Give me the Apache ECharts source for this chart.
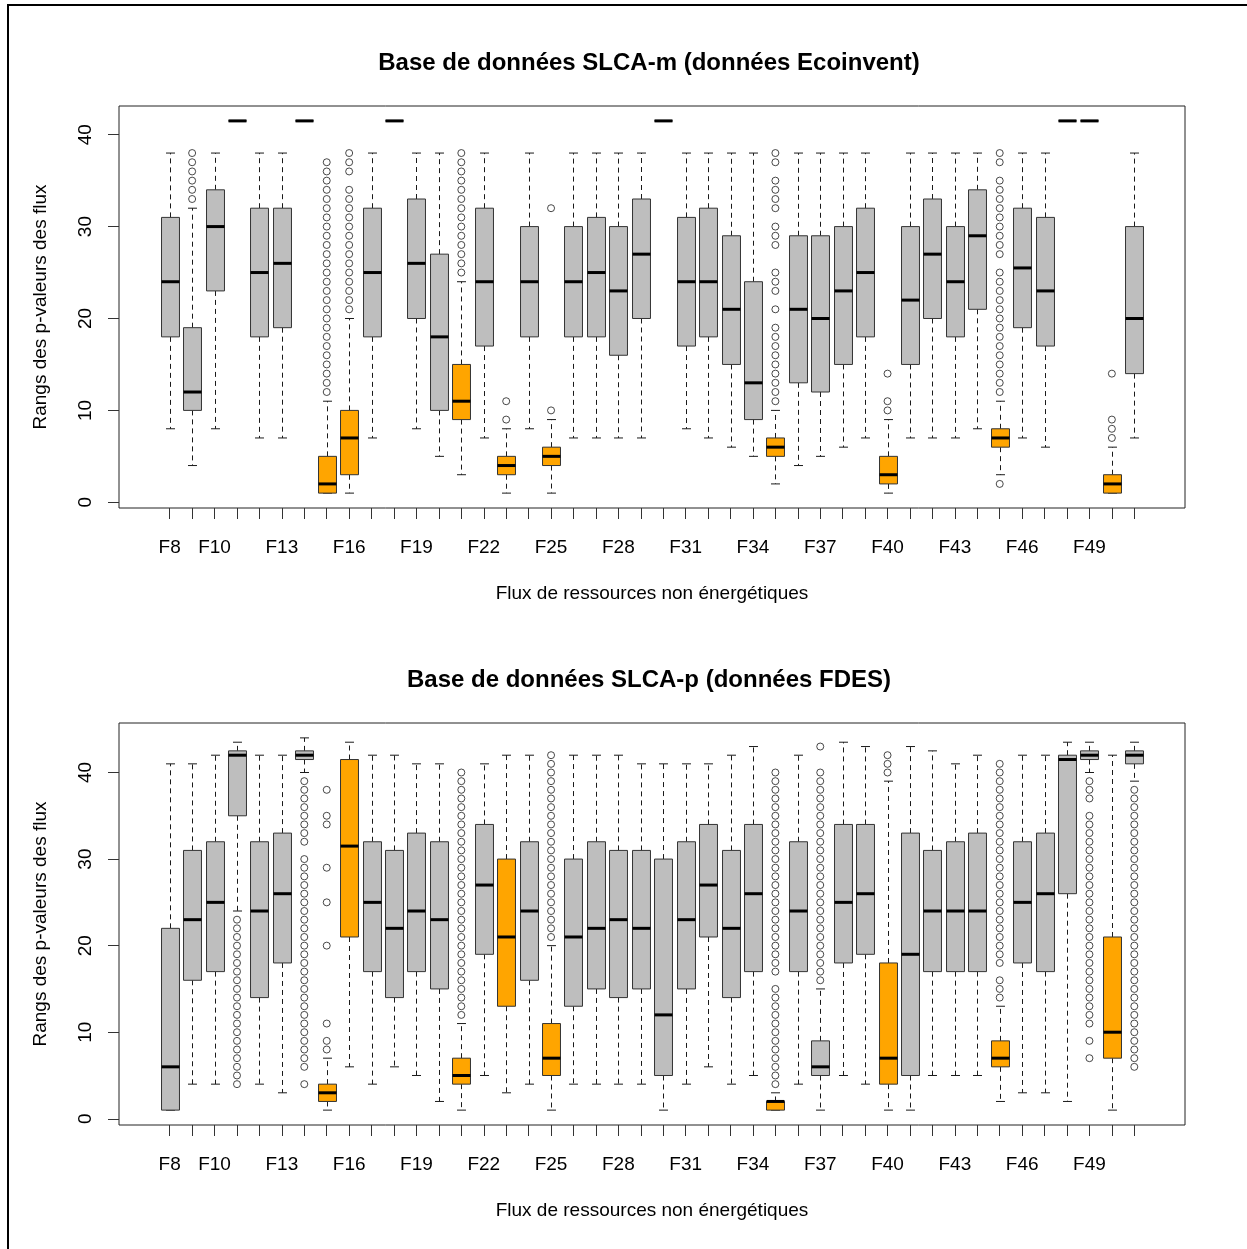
<!DOCTYPE html>
<html><head><meta charset="utf-8">
<script src="https://cdn.jsdelivr.net/npm/echarts@6/dist/echarts.min.js"></script>
<style>html,body{margin:0;padding:0;background:#fff}#c{width:1247px;height:1249px}</style>
</head><body><div id="c"></div>
<script>
const categories = ['F8','F9','F10','F11','F12','F13','F14','F15','F16','F17','F18','F19','F20','F21','F22','F23','F24','F25','F26','F27','F28','F29','F30','F31','F32','F33','F34','F35','F36','F37','F38','F39','F40','F41','F42','F43','F44','F45','F46','F47','F48','F49','F50','F51'];
const tickLabels = ['F8','F10','F13','F16','F19','F22','F25','F28','F31','F34','F37','F40','F43','F46','F49'];
const highlighted = ['F15','F16','F21','F23','F25','F35','F40','F45','F50'];
const yTicks = [0,10,20,30,40];

// [min whisker, Q1, median, Q3, max whisker]
const statsTop = [
  [8,18,24,31,38],[4,10,12,19,32],[8,23,30,34,38],[41.5,41.5,41.5,41.5,41.5],[7,18,25,32,38],
  [7,19,26,32,38],[41.5,41.5,41.5,41.5,41.5],[1,1,2,5,11],[1,3,7,10,20],[7,18,25,32,38],
  [41.5,41.5,41.5,41.5,41.5],[8,20,26,33,38],[5,10,18,27,38],[3,9,11,15,24],[7,17,24,32,38],
  [1,3,4,5,8],[8,18,24,30,38],[1,4,5,6,9],[7,18,24,30,38],[7,18,25,31,38],
  [7,16,23,30,38],[7,20,27,33,38],[41.5,41.5,41.5,41.5,41.5],[8,17,24,31,38],[7,18,24,32,38],
  [6,15,21,29,38],[5,9,13,24,38],[2,5,6,7,10],[4,13,21,29,38],[5,12,20,29,38],
  [6,15,23,30,38],[7,18,25,32,38],[1,2,3,5,9],[7,15,22,30,38],[7,20,27,33,38],
  [7,18,24,30,38],[8,21,29,34,38],[3,6,7,8,11],[7,19,25.5,32,38],[6,17,23,31,38],
  [41.5,41.5,41.5,41.5,41.5],[41.5,41.5,41.5,41.5,41.5],[1,1,2,3,6],[7,14,20,30,38]
];
const outliersTop = {
  F9: [33,34,35,36,37,38],
  F15: [12,13,14,15,16,17,18,19,20,21,22,23,24,25,26,27,28,29,30,31,32,33,34,35,36,37],
  F16: [21,22,23,24,25,26,27,28,29,30,31,32,33,34,36,37,38],
  F21: [25,26,27,28,29,30,31,32,33,34,35,36,37,38],
  F23: [9,11],
  F25: [10,32],
  F35: [11,12,13,14,15,16,17,18,19,21,23,24,25,28,29,30,32,33,34,35,37,38],
  F40: [10,11,14],
  F45: [2,12,13,14,15,16,17,18,19,20,21,22,23,24,25,27,28,29,30,31,32,33,34,35,37,38],
  F50: [7,8,9,14]
};

const statsBottom = [
  [1,1,6,22,41],[4,16,23,31,41],[4,17,25,32,42],[24,35,42,42.5,43.5],[4,14,24,32,42],
  [3,18,26,33,42],[40,41.5,42,42.5,44],[1,2,3,4,7],[6,21,31.5,41.5,43.5],[4,17,25,32,42],
  [6,14,22,31,42],[5,17,24,33,41],[2,15,23,32,41],[1,4,5,7,11],[5,19,27,34,41],
  [3,13,21,30,42],[4,16,24,32,42],[1,5,7,11,20],[4,13,21,30,42],[4,15,22,32,42],
  [4,14,23,31,42],[4,15,22,31,41],[1,5,12,30,41],[4,15,23,32,41],[6,21,27,34,41],
  [4,14,22,31,42],[5,17,26,34,43],[1,1,2,2,3],[4,17,24,32,42],[1,5,6,9,15],
  [5,18,25,34,43.5],[4,19,26,34,43],[1,4,7,18,39],[1,5,19,33,43],[5,17,24,31,42.5],
  [5,17,24,32,41],[5,17,24,33,42],[2,6,7,9,13],[3,18,25,32,42],[3,17,26,33,42],
  [2,26,41.5,42,43.5],[40,41.5,42,42.5,43.5],[1,7,10,21,42],[39,41,42,42.5,43.5]
];
const outliersBottom = {
  F11: [4,5,6,7,8,9,10,11,12,13,14,15,16,17,18,19,20,21,22,23],
  F14: [4,6,7,8,9,10,11,12,13,14,15,16,17,18,19,20,21,22,23,24,25,26,27,28,29,30,32,33,34,35,36,37,38,39],
  F15: [8,9,11,20,25,29,34,35,38],
  F21: [12,13,14,15,16,17,18,19,20,21,22,23,24,25,26,27,28,29,30,31,32,33,34,35,36,37,38,39,40],
  F25: [21,22,23,24,25,26,27,28,29,30,31,32,33,34,35,36,37,38,39,40,41,42],
  F35: [4,5,6,7,8,9,10,11,12,13,14,15,17,18,19,20,21,22,23,24,25,26,27,28,29,30,31,32,33,34,35,36,37,38,39,40],
  F37: [16,17,18,19,20,21,22,23,24,25,26,27,28,29,30,31,32,33,34,35,36,37,38,39,40,43],
  F40: [40,41,42],
  F45: [14,15,16,18,19,20,21,22,23,24,25,26,27,28,29,30,31,32,33,34,35,36,37,38,39,40,41],
  F49: [7,9,11,12,13,14,15,16,17,18,19,20,21,22,23,24,25,26,27,28,29,30,31,32,33,34,35,37,38,39],
  F51: [6,7,8,9,10,11,12,13,14,15,16,17,18,19,20,21,22,23,24,25,26,27,28,29,30,31,32,33,34,35,36,37,38]
};

const FONT = "'Liberation Sans', Arial, sans-serif";
const GREY = '#BEBEBE', ORANGE = '#FFA500', INK = '#1a1a1a';

function boxData(stats) {
  return stats.map((s, i) => [i + 1, s[0], s[1], s[2], s[3], s[4], highlighted.indexOf(categories[i]) >= 0 ? 1 : 0]);
}
function outlierData(out) {
  const res = [];
  Object.keys(out).forEach(k => {
    const x = categories.indexOf(k) + 1;
    out[k].forEach(v => res.push([x, v]));
  });
  return res;
}
function renderBox(params, api) {
  const x = api.value(0);
  const pLo = api.coord([x, api.value(1)]);
  const pQ1 = api.coord([x, api.value(2)]);
  const pMd = api.coord([x, api.value(3)]);
  const pQ3 = api.coord([x, api.value(4)]);
  const pHi = api.coord([x, api.value(5)]);
  const hl = api.value(6);
  const hw = api.size([0.8, 0])[0] / 2;
  const sw = hw / 2;
  const cx = Math.round(pMd[0]) + 0.5;
  const dash = { stroke: INK, lineWidth: 1, lineDash: [5, 4] };
  const solid = { stroke: INK, lineWidth: 1 };
  return {
    type: 'group',
    children: [
      { type: 'line', shape: { x1: cx, y1: pQ3[1], x2: cx, y2: pHi[1] }, style: dash },
      { type: 'line', shape: { x1: cx, y1: pQ1[1], x2: cx, y2: pLo[1] }, style: dash },
      { type: 'line', shape: { x1: cx - sw, y1: pHi[1], x2: cx + sw, y2: pHi[1] }, style: solid },
      { type: 'line', shape: { x1: cx - sw, y1: pLo[1], x2: cx + sw, y2: pLo[1] }, style: solid },
      { type: 'rect', shape: { x: cx - hw, y: pQ3[1], width: 2 * hw, height: pQ1[1] - pQ3[1] },
        style: { fill: hl ? ORANGE : GREY, stroke: '#333', lineWidth: 1 } },
      { type: 'line', shape: { x1: cx - hw, y1: pMd[1], x2: cx + hw, y2: pMd[1] }, style: { stroke: '#000', lineWidth: 3 } }
    ]
  };
}

const tickPos = categories.map((c, i) => i + 1);
const labelPos = tickLabels.map(l => categories.indexOf(l) + 1);
const nData = categories.length;
const xMin = 0.5 - 0.04 * nData, xMax = nData + 0.5 + 0.04 * nData;

function yRange(stats, out) {
  let lo = Infinity, hi = -Infinity;
  stats.forEach(s => { lo = Math.min(lo, s[0]); hi = Math.max(hi, s[4]); });
  Object.values(out).forEach(a => a.forEach(v => { lo = Math.min(lo, v); hi = Math.max(hi, v); }));
  const pad = (hi - lo) * 0.04;
  return [lo - pad, hi + pad];
}
const rTop = yRange(statsTop, outliersTop);
const rBot = yRange(statsBottom, outliersBottom);

function xAxis(gi) {
  return {
    type: 'value', gridIndex: gi, min: xMin, max: xMax, position: 'bottom',
    axisLine: { show: false, onZero: false }, splitLine: { show: false },
    axisTick: { show: true, customValues: tickPos, length: 11, lineStyle: { color: '#333', width: 1 } },
    axisLabel: { customValues: labelPos, formatter: v => categories[Math.round(v) - 1], fontSize: 19, color: '#000', margin: 30, fontFamily: FONT },
    name: 'Flux de ressources non énergétiques', nameLocation: 'middle', nameGap: 76,
    nameTextStyle: { fontSize: 19, color: '#000', fontFamily: FONT }
  };
}
function yAxis(gi, r) {
  return {
    type: 'value', gridIndex: gi, min: r[0], max: r[1], position: 'left',
    axisLine: { show: false, onZero: false }, splitLine: { show: false },
    axisTick: { show: true, customValues: yTicks, length: 11, lineStyle: { color: '#333', width: 1 } },
    axisLabel: { customValues: yTicks, rotate: 90, fontSize: 19, color: '#000', margin: 24, fontFamily: FONT },
    name: 'Rangs des p-valeurs des flux', nameLocation: 'middle', nameGap: 69,
    nameTextStyle: { fontSize: 19, color: '#000', fontFamily: FONT }
  };
}

const chart = echarts.init(document.getElementById('c'), null, { renderer: 'canvas' });
chart.setOption({
  animation: false,
  backgroundColor: '#fff',
  grid: [
    { left: 119, width: 1066, top: 106, height: 402, show: true, borderColor: '#222', borderWidth: 1, backgroundColor: 'transparent' },
    { left: 119, width: 1066, top: 723, height: 402, show: true, borderColor: '#222', borderWidth: 1, backgroundColor: 'transparent' }
  ],
  xAxis: [xAxis(0), xAxis(1)],
  yAxis: [yAxis(0, rTop), yAxis(1, rBot)],
  graphic: [
    { type: 'rect', shape: { x: 8, y: 5, width: 1400, height: 1400 }, style: { fill: 'none', stroke: '#000', lineWidth: 2 }, silent: true },
    { type: 'text', x: 649, y: 63, style: { text: 'Base de données SLCA-m (données Ecoinvent)', font: "bold 24px " + FONT, fill: '#000', textAlign: 'center', textVerticalAlign: 'middle' } },
    { type: 'text', x: 649, y: 680, style: { text: 'Base de données SLCA-p (données FDES)', font: "bold 24px " + FONT, fill: '#000', textAlign: 'center', textVerticalAlign: 'middle' } }
  ],
  series: [
    { type: 'custom', xAxisIndex: 0, yAxisIndex: 0, renderItem: renderBox, data: boxData(statsTop), encode: { x: 0, y: [1, 2, 3, 4, 5] }, silent: true },
    { type: 'scatter', xAxisIndex: 0, yAxisIndex: 0, data: outlierData(outliersTop), symbol: 'circle', symbolSize: 7,
      itemStyle: { color: 'rgba(0,0,0,0)', borderColor: INK, borderWidth: 1 }, silent: true },
    { type: 'custom', xAxisIndex: 1, yAxisIndex: 1, renderItem: renderBox, data: boxData(statsBottom), encode: { x: 0, y: [1, 2, 3, 4, 5] }, silent: true },
    { type: 'scatter', xAxisIndex: 1, yAxisIndex: 1, data: outlierData(outliersBottom), symbol: 'circle', symbolSize: 7,
      itemStyle: { color: 'rgba(0,0,0,0)', borderColor: INK, borderWidth: 1 }, silent: true }
  ]
});
</script>
</body></html>
